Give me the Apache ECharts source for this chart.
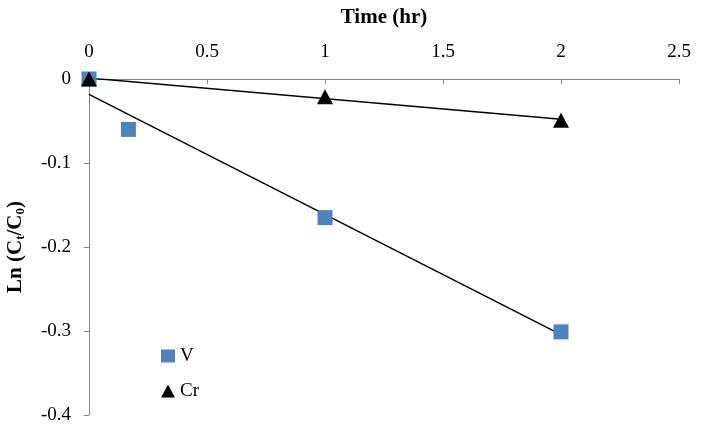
<!DOCTYPE html>
<html><head><meta charset="utf-8">
<script src="https://cdn.jsdelivr.net/npm/echarts@6/dist/echarts.min.js"></script>
<style>html,body{margin:0;padding:0;background:#fff}#c{width:702px;height:436px}</style>
</head><body><div id="c"></div>
<script>
var vX = [0, 0.167, 1, 2];
var vY = [0, -0.06, -0.165, -0.301];
var crX = [0, 1, 2];
var crY = [0, -0.021, -0.049];
var xTicks = [0, 0.5, 1, 1.5, 2, 2.5];
var yTicks = [0, -0.1, -0.2, -0.3, -0.4];

function fit(xs, ys) {
  var n = xs.length, mx = 0, my = 0;
  for (var i = 0; i < n; i++) { mx += xs[i]; my += ys[i]; }
  mx /= n; my /= n;
  var sxx = 0, sxy = 0;
  for (var j = 0; j < n; j++) { sxx += (xs[j]-mx)*(xs[j]-mx); sxy += (xs[j]-mx)*(ys[j]-my); }
  var b = sxy / sxx, a = my - b * mx;
  var x0 = Math.min.apply(null, xs), x1 = Math.max.apply(null, xs);
  return [[x0, a + b * x0], [x1, a + b * x1]];
}
function pairs(xs, ys) { return xs.map(function (x, i) { return [x, ys[i]]; }); }

var font = 'Liberation Serif';
var chart = echarts.init(document.getElementById('c'));
chart.setOption({
  animation: false,
  textStyle: { fontFamily: font },
  grid: { left: 89, right: 23, top: 79, bottom: 21, outerBoundsMode: 'none', containLabel: false },
  xAxis: {
    type: 'value', position: 'top', min: 0, max: 2.5, interval: 0.5,
    name: 'Time (hr)', nameLocation: 'middle', nameGap: 51,
    nameTextStyle: { fontFamily: font, fontWeight: 'bold', fontSize: 21, color: '#000' },
    axisLine: { show: true, lineStyle: { color: '#868686', width: 1 } },
    axisTick: { show: true, inside: true, length: 5, lineStyle: { color: '#868686' } },
    axisLabel: { fontFamily: font, fontSize: 19, color: '#000', margin: 17 },
    splitLine: { show: false }
  },
  yAxis: {
    type: 'value', min: -0.4, max: 0, interval: 0.1,
    name: '{b|Ln (C}{s|t}{b|/C}{s|0}{b|)}', nameLocation: 'middle', nameGap: 62, nameRotate: 90,
    nameTextStyle: {
      rich: {
        b: { fontFamily: font, fontWeight: 'bold', fontSize: 21, color: '#000' },
        s: { fontFamily: font, fontWeight: 'bold', fontSize: 13, color: '#000', padding: [9, 0, 0, 0] }
      }
    },
    axisLine: { show: true, lineStyle: { color: '#868686', width: 1 } },
    axisTick: { show: true, inside: false, length: 5, lineStyle: { color: '#868686' } },
    axisLabel: { fontFamily: font, fontSize: 19, color: '#000', margin: 18 },
    splitLine: { show: false }
  },
  legend: {
    orient: 'vertical', left: 156, top: 341, itemGap: 15, itemWidth: 14, itemHeight: 13,
    textStyle: { fontFamily: font, fontSize: 19, color: '#000', lineHeight: 20 },
    data: [{ name: 'V', icon: 'rect' }, { name: 'Cr', icon: 'triangle' }]
  },
  series: [
    { name: 'V fit', type: 'line', data: fit(vX, vY), symbol: 'none', lineStyle: { color: '#000', width: 1.5 }, z: 1, silent: true },
    { name: 'Cr fit', type: 'line', data: fit(crX, crY), symbol: 'none', lineStyle: { color: '#000', width: 1.5 }, z: 1, silent: true },
    { name: 'V', type: 'scatter', data: pairs(vX, vY), symbol: 'rect', symbolSize: [15, 15], itemStyle: { color: '#4F81BD', opacity: 1 }, z: 2 },
    { name: 'Cr', type: 'scatter', data: pairs(crX, crY), symbol: 'triangle', symbolSize: [16, 15], itemStyle: { color: '#000', opacity: 1 }, z: 3 }
  ]
});
</script></body></html>
